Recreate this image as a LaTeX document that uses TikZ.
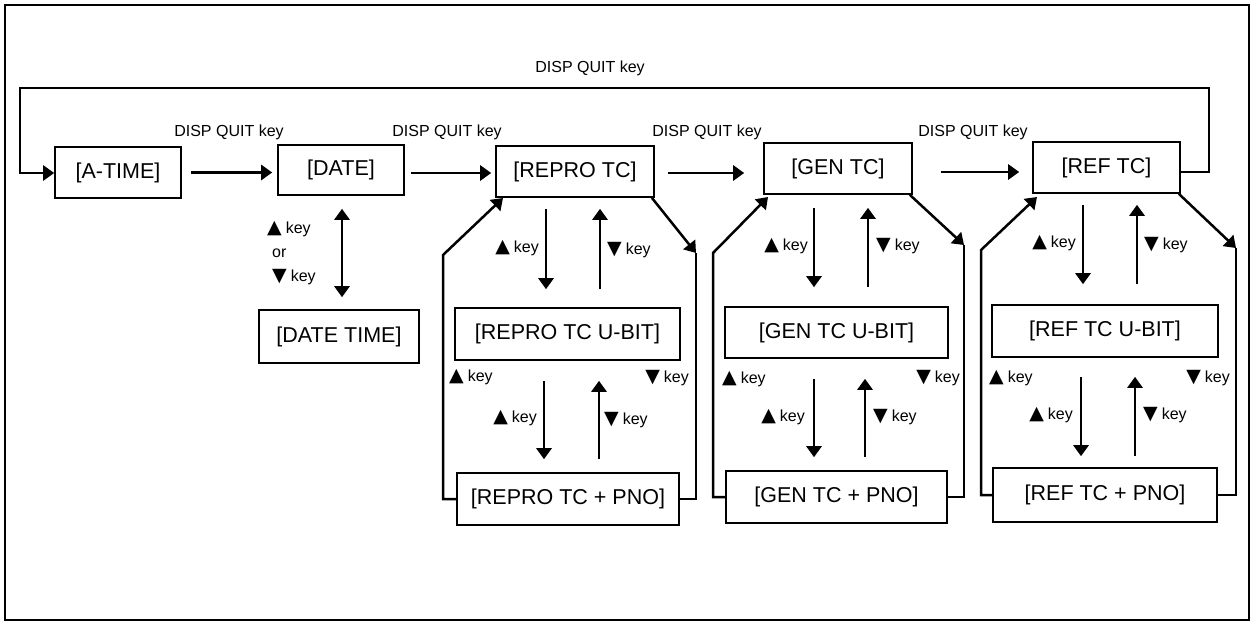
\documentclass[tikz,border=0pt]{standalone}
\usepackage{fontspec}
\setmainfont{Liberation Sans}
\newfontfamily\symfont{DejaVu Sans}
\usetikzlibrary{arrows.meta}
\newcommand\tupk{{\symfont\fontsize{19}{19}\selectfont ▲}\hspace{4pt}key}
\newcommand\tdnk{{\symfont\fontsize{19}{19}\selectfont ▼}\hspace{4pt}key}
\tikzset{
  box/.style={draw, line width=1.6pt, inner sep=0pt, font=\fontsize{21.5}{25}\selectfont},
  lbl/.style={inner sep=0pt, font=\fontsize{16}{19}\selectfont},
  tipA/.tip={Triangle[length=11pt,width=15pt]},
  arr/.style={line width=2.8pt, -tipA},
  loopline/.style={line width=2.5pt},
  looparr/.style={line width=2.5pt, -tipA},
}
\begin{document}
\begin{tikzpicture}[x=1pt,y=-1pt]
\useasboundingbox (0,0) rectangle (1252,622);
\draw[line width=1.8pt] (5,5) rectangle (1249,620);

% nodes
\node[box, minimum width=126pt, minimum height=51pt] (atime) at (118,172.5) {[A-TIME]};
\node[box, minimum width=126pt, minimum height=50pt] (date) at (341,170) {[DATE]};
\node[box, minimum width=160pt, minimum height=53pt] (datetime) at (339,336.5) {[DATE TIME]};
\node[box, minimum width=158pt, minimum height=51pt] (repro) at (575,171.5) {[REPRO TC]};
\node[box, minimum width=225pt, minimum height=52pt] (reprou) at (567.5,334) {[REPRO TC U-BIT]};
\node[box, minimum width=222pt, minimum height=52pt] (reprop) at (568,499) {[REPRO TC + PNO]};
\node[box, minimum width=148pt, minimum height=51pt] (gen) at (838,168.5) {[GEN TC]};
\node[box, minimum width=223pt, minimum height=51pt] (genu) at (836.5,332.5) {[GEN TC U-BIT]};
\node[box, minimum width=221pt, minimum height=52pt] (genp) at (836.5,497) {[GEN TC + PNO]};
\node[box, minimum width=147pt, minimum height=51pt] (ref) at (1106.5,167.5) {[REF TC]};
\node[box, minimum width=226pt, minimum height=52pt] (refu) at (1105,331) {[REF TC U-BIT]};
\node[box, minimum width=224pt, minimum height=54pt] (refp) at (1105,495) {[REF TC + PNO]};

% DISP QUIT labels
\node[lbl] (q0) at (590,68) {DISP QUIT key};
\node[lbl] (q1) at (229,132) {DISP QUIT key};
\node[lbl] (q2) at (447,132) {DISP QUIT key};
\node[lbl] (q3) at (707,132) {DISP QUIT key};
\node[lbl] (q4) at (973,132) {DISP QUIT key};

% horizontal arrows
\draw[arr, shorten <=9pt, shorten >=5pt] (atime.east) -- (date.west |- atime.east);
\draw[arr, shorten <=6pt, shorten >=4pt] (date.east |- 0,173) -- (repro.west |- 0,173);
\draw[arr, shorten <=13pt, shorten >=19pt] (repro.east |- 0,173) -- (gen.west |- 0,173);
\draw[arr, shorten <=28pt, shorten >=13pt] (gen.east |- 0,172) -- (ref.west |- 0,172);

% top loop
\coordinate (tl1) at (1209,88);
\coordinate (tl2) at (20,88);
\draw[looparr] (ref.east |- 0,172) -| (tl1) -- (tl2) |- (atime.west |- 0,173);

% DATE <-> DATE TIME
\draw[line width=2.8pt, tipA-tipA, shorten <=13pt, shorten >=12pt] (342,0 |- date.south) -- (342,0 |- datetime.north);
\node[lbl, anchor=west] (dl1) at (267,229) {\tupk};
\node[lbl, anchor=west] (dl2) at (272,253) {or};
\node[lbl, anchor=west] (dl3) at (272,277) {\tdnk};

% ---- REPRO column
\draw[arr, shorten <=11pt, shorten >=18pt] (546,0 |- repro.south) -- (546,0 |- reprou.north);
\draw[arr, shorten <=18pt, shorten >=11pt] (600,0 |- reprou.north) -- (600,0 |- repro.south);
\draw[arr, shorten <=20pt, shorten >=13pt] (544,0 |- reprou.south) -- (544,0 |- reprop.north);
\draw[arr, shorten <=13pt, shorten >=20pt] (599,0 |- reprop.north) -- (599,0 |- reprou.south);
\coordinate (rl1) at (443,255);
\coordinate (rl2) at (503,198);
\draw[looparr] (reprop.west) -| (rl1) -- (rl2);
\coordinate (rr1) at (696,253);
\draw[looparr] ([xshift=-3pt]repro.south east) -- (rr1);
\draw[loopline] (rr1) |- (reprop.east);
\node[lbl, anchor=east] at (539,248) {\tupk};
\node[lbl, anchor=west] at (607,250) {\tdnk};
\node[lbl, anchor=east] at (537,418) {\tupk};
\node[lbl, anchor=west] at (604,420) {\tdnk};
\node[lbl, anchor=west] at (449,377) {\tupk};
\node[lbl, anchor=east] at (689,378) {\tdnk};

% ---- GEN column
\draw[arr, shorten <=13pt, shorten >=19pt] (814,0 |- gen.south) -- (814,0 |- genu.north);
\draw[arr, shorten <=19pt, shorten >=13pt] (868,0 |- genu.north) -- (868,0 |- gen.south);
\draw[arr, shorten <=20pt, shorten >=13pt] (814,0 |- genu.south) -- (814,0 |- genp.north);
\draw[arr, shorten <=13pt, shorten >=20pt] (865,0 |- genp.north) -- (865,0 |- genu.south);
\coordinate (gl1) at (713,253);
\coordinate (gl2) at (768,197);
\draw[looparr] (genp.west) -| (gl1) -- (gl2);
\coordinate (gr1) at (964,245);
\draw[looparr] ([xshift=-3pt]gen.south east) -- (gr1);
\draw[loopline] (gr1) |- (genp.east);
\node[lbl, anchor=east] at (808,246) {\tupk};
\node[lbl, anchor=west] at (876,246) {\tdnk};
\node[lbl, anchor=east] at (805,417) {\tupk};
\node[lbl, anchor=west] at (873,417) {\tdnk};
\node[lbl, anchor=west] at (722,379) {\tupk};
\node[lbl, anchor=east] at (960,378) {\tdnk};

% ---- REF column
\draw[arr, shorten <=11pt, shorten >=20pt] (1083,0 |- ref.south) -- (1083,0 |- refu.north);
\draw[arr, shorten <=20pt, shorten >=11pt] (1137,0 |- refu.north) -- (1137,0 |- ref.south);
\draw[arr, shorten <=19pt, shorten >=11pt] (1081,0 |- refu.south) -- (1081,0 |- refp.north);
\draw[arr, shorten <=11pt, shorten >=19pt] (1135,0 |- refp.north) -- (1135,0 |- refu.south);
\coordinate (fl1) at (981,250);
\coordinate (fl2) at (1037,197);
\draw[looparr] (refp.west) -| (fl1) -- (fl2);
\coordinate (fr1) at (1236,248);
\draw[looparr] ([xshift=-2pt]ref.south east) -- (fr1);
\draw[loopline] (fr1) |- (refp.east);
\node[lbl, anchor=east] at (1076,243) {\tupk};
\node[lbl, anchor=west] at (1144,245) {\tdnk};
\node[lbl, anchor=east] at (1073,415) {\tupk};
\node[lbl, anchor=west] at (1143,415) {\tdnk};
\node[lbl, anchor=west] at (989,378) {\tupk};
\node[lbl, anchor=east] at (1230,378) {\tdnk};
\end{tikzpicture}
\end{document}
